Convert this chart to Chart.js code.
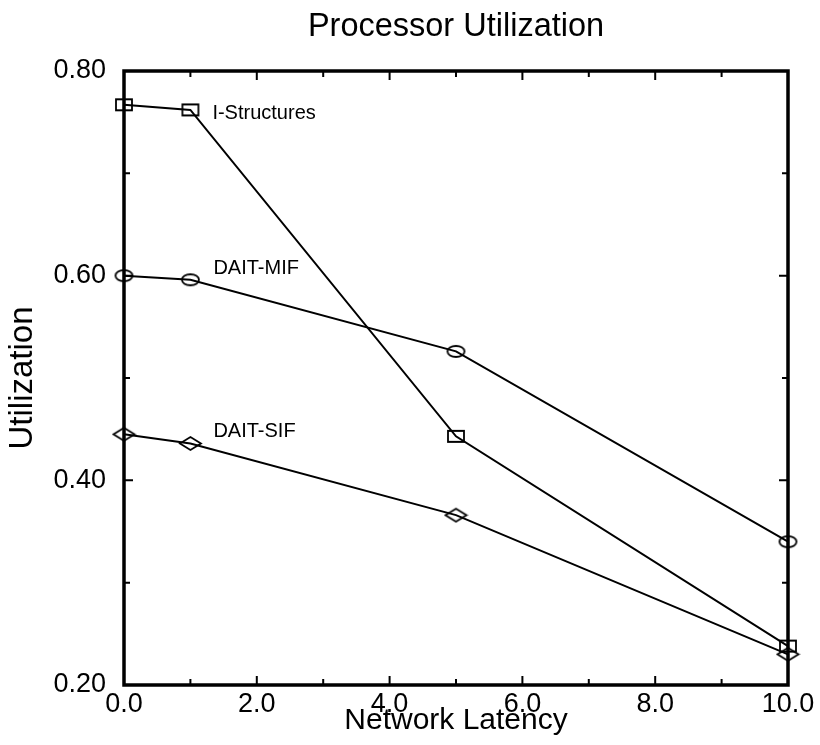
<!DOCTYPE html>
<html><head><meta charset="utf-8">
<script src="https://cdn.jsdelivr.net/npm/chart.js@4"></script>
<style>html,body{margin:0;padding:0;background:#fff}canvas{display:block}</style>
</head><body>
<canvas id="c" width="820" height="745"></canvas>
<script>
// Processor utilization vs. network latency for three synchronization schemes
const latency = [0, 1, 5, 10];
const iStructures = [0.767, 0.762, 0.443, 0.238];
const daitMif = [0.600, 0.596, 0.526, 0.340];
const daitSif = [0.445, 0.436, 0.366, 0.230];
const seriesNames = ['I-Structures', 'DAIT-MIF', 'DAIT-SIF'];
const xTicks = [0, 2, 4, 6, 8, 10];
const yTicks = [0.2, 0.4, 0.6, 0.8];

const FONT = '"Liberation Sans", Arial, Helvetica, sans-serif';

// open (unfilled) markers drawn on small canvases
function marker(kind, w, h) {
  const c = document.createElement('canvas');
  c.width = w + 4; c.height = h + 4;
  const g = c.getContext('2d');
  g.strokeStyle = '#000';
  g.lineWidth = 1.8;
  const cx = c.width / 2, cy = c.height / 2;
  g.beginPath();
  if (kind === 'rect') {
    g.rect(cx - w / 2, cy - h / 2, w, h);
  } else if (kind === 'ellipse') {
    g.ellipse(cx, cy, w / 2, h / 2, 0, 0, Math.PI * 2);
  } else {
    g.moveTo(cx - w / 2, cy); g.lineTo(cx, cy - h / 2);
    g.lineTo(cx + w / 2, cy); g.lineTo(cx, cy + h / 2); g.closePath();
  }
  g.stroke();
  return c;
}

function toPoints(ys) { return latency.map((x, i) => ({ x, y: ys[i] })); }

function series(label, ys, style) {
  return {
    label, data: toPoints(ys), clip: false,
    borderColor: '#000', borderWidth: 2, backgroundColor: 'transparent',
    pointStyle: style, pointRadius: 8, tension: 0, fill: false
  };
}

// inward ticks and heavy frame around the plot area
const framePlugin = {
  id: 'frame',
  beforeDatasetsDraw(chart) {
    const { ctx, chartArea: a, scales: { x, y } } = chart;
    ctx.save();
    ctx.strokeStyle = '#000';
    ctx.lineWidth = 2;
    ctx.beginPath();
    for (let v = 0; v <= 10; v++) {
      const px = x.getPixelForValue(v);
      const len = v % 2 === 0 ? 9 : 6;
      ctx.moveTo(px, a.bottom); ctx.lineTo(px, a.bottom - len);
      ctx.moveTo(px, a.top); ctx.lineTo(px, a.top + len);
    }
    for (let k = 2; k <= 8; k++) {
      const py = y.getPixelForValue(k / 10);
      const len = k % 2 === 0 ? 9 : 6;
      ctx.moveTo(a.left, py); ctx.lineTo(a.left + len, py);
      ctx.moveTo(a.right, py); ctx.lineTo(a.right - len, py);
    }
    ctx.stroke();
    ctx.lineWidth = 3.5;
    ctx.strokeRect(a.left, a.top, a.right - a.left, a.bottom - a.top);
    ctx.restore();
  }
};

// series names written beside the second point of each line
const labelPlugin = {
  id: 'seriesLabels',
  afterDatasetsDraw(chart) {
    const offsets = [[22, 4], [23, -11], [23, -12]];
    const { ctx } = chart;
    ctx.save();
    ctx.fillStyle = '#000';
    ctx.font = '20px ' + FONT;
    ctx.textAlign = 'left';
    ctx.textBaseline = 'middle';
    seriesNames.forEach((name, i) => {
      const pt = chart.getDatasetMeta(i).data[1];
      ctx.fillText(name, pt.x + offsets[i][0], pt.y + offsets[i][1]);
    });
    ctx.restore();
  }
};

new Chart(document.getElementById('c'), {
  type: 'line',
  data: {
    datasets: [
      series(seriesNames[0], iStructures, marker('rect', 16, 11)),
      series(seriesNames[1], daitMif, marker('ellipse', 17, 11)),
      series(seriesNames[2], daitSif, marker('diamond', 21, 13))
    ]
  },
  options: {
    responsive: false,
    animation: false,
    devicePixelRatio: 1,
    layout: { padding: { left: 0, right: 32, top: 0, bottom: 0 } },
    plugins: {
      legend: { display: false },
      tooltip: { enabled: false },
      title: {
        display: true, text: 'Processor Utilization', color: '#000',
        fullSize: false,
        font: { family: FONT, size: 32.5, weight: 'normal' },
        padding: { top: 8, bottom: 24 }
      }
    },
    scales: {
      x: {
        type: 'linear', min: 0, max: 10,
        grid: { display: false, drawTicks: false },
        border: { display: false },
        afterBuildTicks(s) { s.ticks = xTicks.map(v => ({ value: v })); },
        afterFit(s) { s.height = 60; },
        ticks: {
          color: '#000', padding: 3, maxRotation: 0, autoSkip: false,
          font: { family: FONT, size: 27 },
          callback: v => Number(v).toFixed(1)
        },
        title: {
          display: true, text: 'Network Latency', color: '#000',
          font: { family: FONT, size: 30 }, padding: { top: 0, bottom: 6 }
        }
      },
      y: {
        type: 'linear', min: 0.2, max: 0.8,
        grid: { display: false, drawTicks: false },
        border: { display: false },
        afterBuildTicks(s) { s.ticks = yTicks.map(v => ({ value: v })); },
        afterFit(s) { s.width = 124; },
        ticks: {
          color: '#000', padding: 18, autoSkip: false,
          font: { family: FONT, size: 27 },
          callback: v => Number(v).toFixed(2)
        },
        title: {
          display: true, text: 'Utilization', color: '#000',
          font: { family: FONT, size: 33 }, padding: { top: 3, bottom: 0 }
        }
      }
    }
  },
  plugins: [framePlugin, labelPlugin]
});
</script>
</body></html>
